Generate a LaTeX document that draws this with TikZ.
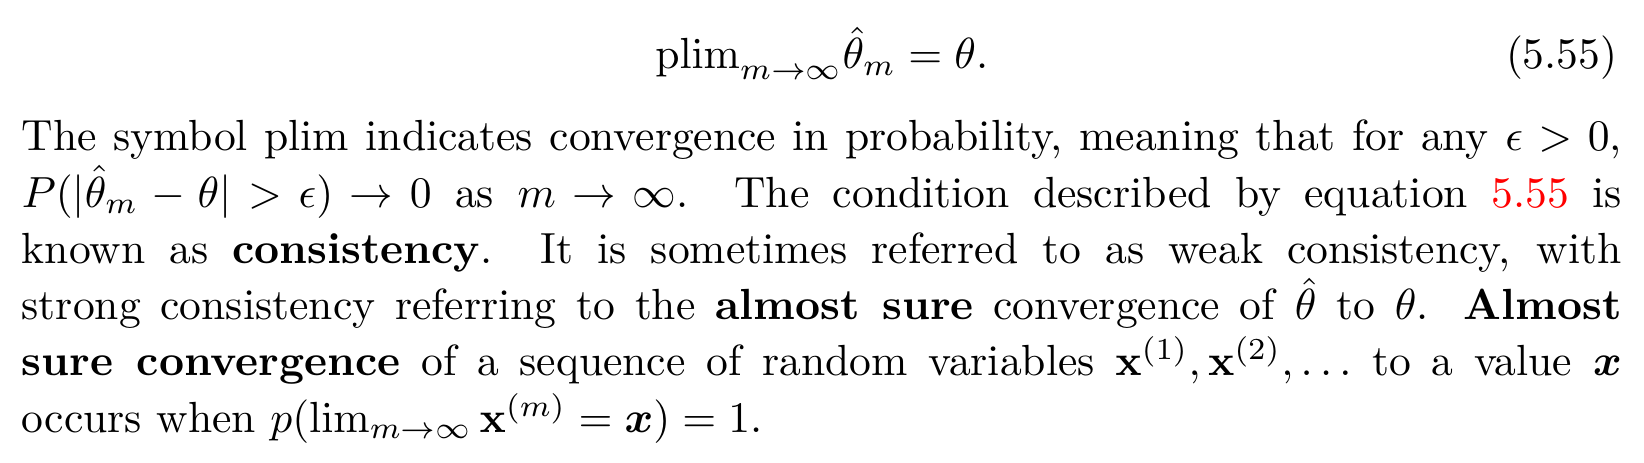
\documentclass[tikz,border=0pt]{standalone}
\usepackage{amsmath, amssymb}
\newcommand{\linea}[1]{\hbox to 367pt{#1}}

\begin{document}
\begin{tikzpicture}[x=1pt, y=1pt,
            renglon/.style ={anchor=base west, inner sep=0pt, outer sep=0pt},
            ecuacion/.style ={anchor=base, inner sep=0pt, outer sep=0pt}]

        %\node [estilo] (nombre) at (x, y) {};
        \useasboundingbox (0,0) rectangle (377.1,-106);

        \node[ecuacion] (E) at (188.5,-15.8) {$\displaystyle \mathrm{plim}_{m\rightarrow\infty}\hat{\theta}_m=\theta.$};
        \node[ecuacion, anchor=base east] (N) at (371,-15.8) {(5.55)};

        \node[renglon] (A) at (5,-34.6) {\linea{The symbol plim indicates convergence in probability, meaning that for any $\epsilon > 0$,}};
        \node[renglon] (B) at (5,-47.5) {\thickmuskip=5mu plus 1.5mu\medmuskip=4mu plus 1mu
            \linea{$P(|\hat{\theta}_m - \theta| > \epsilon) \rightarrow 0$ as $m \rightarrow \infty$. The condition described by equation \textcolor{red}{5.55} is}};
        \node[renglon] (C) at (5,-60.4) {\linea{known as \textbf{consistency}. It is sometimes referred to as weak consistency, with}};
        \node[renglon] (D) at (5,-73.3) {\linea{strong consistency referring to the \textbf{almost sure} convergence of $\hat{\theta}$ to $\theta$. \textbf{Almost}}};
        \node[renglon] (F) at (5,-86.2) {\linea{\textbf{sure convergence} of a sequence of random variables $\mathbf{x}^{(1)}, \mathbf{x}^{(2)}, \ldots$ to a value $\boldsymbol{x}$}};
        \node[renglon] (G) at (5,-99.1) {occurs when $p(\lim_{m\rightarrow\infty} \mathbf{x}^{(m)} = \boldsymbol{x}) = 1$.};

        %si queremos el numero en otro color
        %\node (N) ... {\textcolor{red}{(5.55)}};
\end{tikzpicture}
\end{document}
